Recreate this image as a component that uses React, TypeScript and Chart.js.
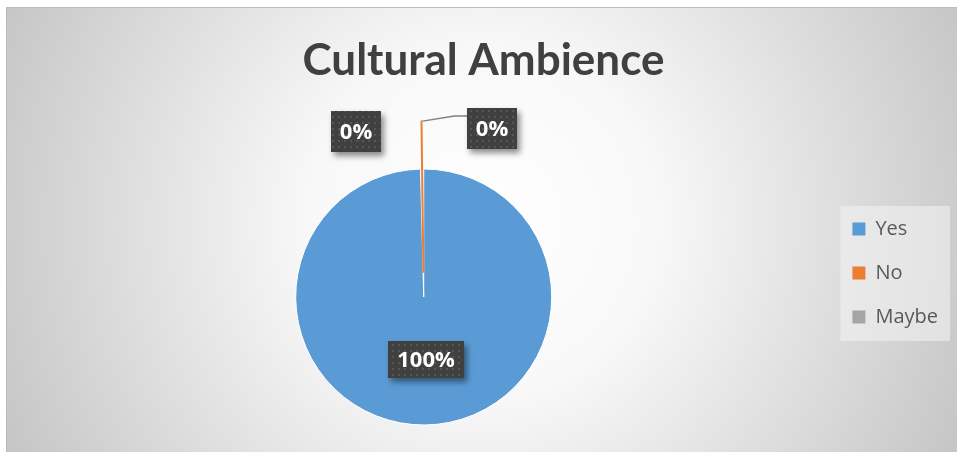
import React, { useEffect, useRef } from "react";
import { Chart, registerables } from "chart.js";

Chart.register(...registerables);

const TITLE = "Cultural Ambience";
const CATEGORIES = ["Yes", "No", "Maybe"];
const VALUES = [99.6, 0.4, 0];

const W = 957;
const H = 452;

function makePattern(ctx: CanvasRenderingContext2D) {
  const c = document.createElement("canvas");
  c.width = 6;
  c.height = 6;
  const g = c.getContext("2d")!;
  g.fillStyle = "#404040";
  g.fillRect(0, 0, 6, 6);
  g.fillStyle = "#565656";
  g.fillRect(2, 2, 2, 2);
  return ctx.createPattern(c, "repeat");
}

const legendBgPlugin = {
  id: "legendBg",
  beforeDraw(chart: any) {
    const hb = chart.legend && chart.legend.legendHitBoxes;
    if (!hb || !hb.length) return;
    const ctx = chart.ctx;
    let l = Infinity, r = -Infinity, t = Infinity, b = -Infinity;
    hb.forEach((h: any) => {
      l = Math.min(l, h.left);
      r = Math.max(r, h.left + h.width);
      t = Math.min(t, h.top);
      b = Math.max(b, h.top + h.height);
    });
    ctx.save();
    ctx.fillStyle = "rgba(244,244,244,0.55)";
    ctx.fillRect(l - 12, t - 13, r - l + 24, b - t + 27);
    ctx.restore();
  },
};

const dataLabelPlugin = {
  id: "excelDataLabels",
  afterDatasetsDraw(chart: any) {
    const ctx: CanvasRenderingContext2D = chart.ctx;
    const meta = chart.getDatasetMeta(0);
    const data = chart.data.datasets[0].data as number[];
    const total = data.reduce((a, b) => a + b, 0);
    const pattern = makePattern(ctx);
    ctx.save();
    ctx.font = "bold 22px 'Open Sans'";
    meta.data.forEach((arc: any, i: number) => {
      const text = Math.round((data[i] / total) * 100) + "%";
      const p = arc.getProps(["x", "y", "startAngle", "endAngle", "outerRadius", "circumference"], true);
      const mid = (p.startAngle + p.endAngle) / 2;
      const off = (arc.options.offset || 0) / 4;
      // same geometry Chart.js uses for an exploded arc
      const fix = 1 - Math.sin(Math.min(Math.PI, p.circumference || 0));
      const reach = p.outerRadius + off + off * fix;
      const tipX = p.x + Math.cos(mid) * reach;
      const tipY = p.y + Math.sin(mid) * reach;
      const tw = ctx.measureText(text).width;
      const bw = Math.round(tw + 18);
      const bh = i === 0 ? 37 : 41;
      let cx: number, cy: number;
      let leader: number[][] | null = null;
      if (i === 0) {
        const c = arc.tooltipPosition(true);
        cx = c.x + 1;
        cy = c.y - 1;
      } else if (i === 1) {
        cx = tipX + 71;
        cy = tipY + 7;
        leader = [
          [tipX + 1, tipY],
          [tipX + 33, tipY - 5],
          [cx - bw / 2 + 2, tipY - 5],
        ];
      } else {
        cx = tipX - 68;
        cy = tipY - 38;
      }
      if (leader) {
        ctx.save();
        ctx.strokeStyle = "#7f7f7f";
        ctx.lineWidth = 1.5;
        ctx.beginPath();
        ctx.moveTo(leader[0][0], leader[0][1]);
        for (let k = 1; k < leader.length; k++) ctx.lineTo(leader[k][0], leader[k][1]);
        ctx.stroke();
        ctx.restore();
      }
      const x0 = Math.round(cx - bw / 2);
      const y0 = Math.round(cy - bh / 2);
      ctx.save();
      ctx.shadowColor = "rgba(0,0,0,0.45)";
      ctx.shadowBlur = 6;
      ctx.shadowOffsetX = 3;
      ctx.shadowOffsetY = 4;
      ctx.fillStyle = "#404040";
      ctx.fillRect(x0, y0, bw, bh);
      ctx.restore();
      if (pattern) {
        ctx.fillStyle = pattern;
        ctx.fillRect(x0, y0, bw, bh);
      }
      ctx.fillStyle = "#ffffff";
      ctx.textAlign = "center";
      ctx.textBaseline = "middle";
      ctx.fillText(text, x0 + bw / 2, y0 + bh / 2 + 1);
    });
    ctx.restore();
  },
};

export default function App() {
  const ref = useRef<HTMLCanvasElement | null>(null);

  useEffect(() => {
    if (!ref.current) return;
    const baseGen = (Chart as any).overrides.pie.plugins.legend.labels.generateLabels;
    const chart = new Chart(ref.current, {
      type: "pie",
      data: {
        labels: CATEGORIES,
        datasets: [
          {
            data: VALUES,
            backgroundColor: ["#5B9BD5", "#ED7D31", "#A5A5A5"],
            borderColor: ["#ffffff", "#ED7D31", "#A5A5A5"],
            borderWidth: [1, 2, 0],
            offset: [0, 97, 0],
            radius: 128,
          } as any,
        ],
      },
      options: {
        responsive: false,
        animation: false,
        events: [],
        layout: { padding: { left: 19, right: 9, top: 0, bottom: 0 } },
        plugins: {
          tooltip: { enabled: false },
          title: {
            display: true,
            text: TITLE,
            color: "#404040",
            font: { family: "Lato", weight: "bold", size: 44, lineHeight: 1.2 },
            padding: { top: 34.6, bottom: 54.6 },
          },
          legend: {
            position: "right",
            align: "start",
            fullSize: false,
            title: {
              display: true,
              text: " ",
              font: { size: 12, lineHeight: 1.2 },
              padding: { top: 38.6, bottom: 0 },
            },
            labels: {
              boxWidth: 13,
              boxHeight: 13,
              padding: 24,
              color: "#595959",
              font: { family: "'Open Sans'", size: 20 },
              generateLabels: (c: any) =>
                baseGen(c).map((l: any) => ({ ...l, lineWidth: 0, strokeStyle: "rgba(0,0,0,0)" })),
            },
          },
        },
      } as any,
      plugins: [legendBgPlugin, dataLabelPlugin],
    });
    return () => chart.destroy();
  }, []);

  return (
    <div style={{ position: "absolute", left: 0, top: 0, width: W, height: H, overflow: "hidden" }}>
      <div
        style={{
          position: "absolute",
          left: 6,
          top: 7,
          width: 951,
          height: 446,
          border: "1px solid #bdbdbd",
          background:
            "radial-gradient(circle farthest-corner at 50% 48%, #ffffff 0%, #f8f8f8 33%, #c5c5c5 100%)",
        }}
      />
      <canvas
        ref={ref}
        width={W}
        height={H}
        style={{ position: "absolute", left: 0, top: 0, display: "block" }}
      />
    </div>
  );
}
